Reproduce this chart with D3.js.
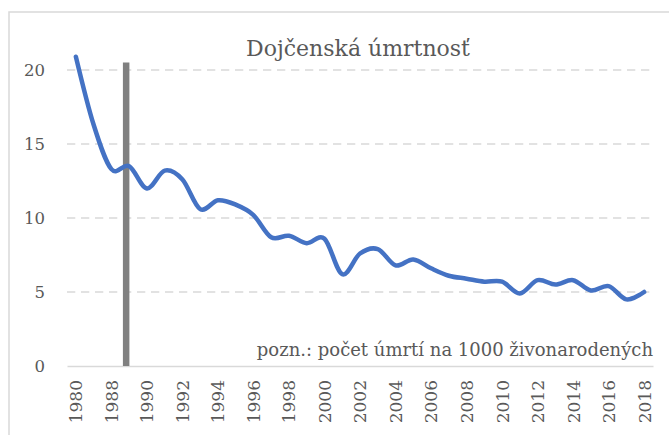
<!DOCTYPE html>
<html>
<head>
<meta charset="utf-8">
<script src="https://cdn.jsdelivr.net/npm/d3@7"></script>
<style>
  body { margin: 0; background: #fff; }
  text { font-family: "DejaVu Serif", serif; fill: #595959; }
</style>
</head>
<body>
<div class="chart"></div>
<script>
// data
const years = ["1980", "1985", "1988", "1989", "1990", "1991", "1992", "1993", "1994", "1995",
  "1996", "1997", "1998", "1999", "2000", "2001", "2002", "2003", "2004", "2005", "2006",
  "2007", "2008", "2009", "2010", "2011", "2012", "2013", "2014", "2015", "2016", "2017", "2018"];
const mortality = [20.9, 16.3, 13.3, 13.5, 12.0, 13.2, 12.6, 10.6, 11.2, 10.9,
  10.2, 8.7, 8.8, 8.3, 8.6, 6.2, 7.6, 7.9, 6.8, 7.2, 6.6,
  6.1, 5.9, 5.7, 5.7, 4.9, 5.8, 5.5, 5.8, 5.1, 5.4, 4.5, 5.0];
const yTicks = [0, 5, 10, 15, 20];
const markerYear = "1989";
const markerTop = 20.5;
const title = "Dojčenská úmrtnosť";
const note = "pozn.: počet úmrtí na 1000 živonarodených";

const W = 669, H = 435;
const plot = {left: 67, right: 653, top: 70, bottom: 366};

const svg = d3.select(".chart")
  .append("svg")
    .attr("width", W)
    .attr("height", H);

// chart frame (only top and left edges visible)
svg.append("rect")
  .attr("x", 9)
  .attr("y", 12)
  .attr("width", W + 20)
  .attr("height", H + 20)
  .attr("fill", "none")
  .attr("stroke", "#d9d9d9")
  .attr("stroke-width", 1.5);

const x = d3.scalePoint()
  .domain(years)
  .range([plot.left, plot.right])
  .padding(0.5);

const y = d3.scaleLinear()
  .domain([0, 20])
  .range([plot.bottom, plot.top]);

// gridlines
svg.append("g")
  .selectAll("line")
  .data(yTicks.filter(d => d > 0))
  .enter()
  .append("line")
    .attr("x1", plot.left)
    .attr("x2", plot.right)
    .attr("y1", d => y(d))
    .attr("y2", d => y(d))
    .attr("stroke", "#d9d9d9")
    .attr("stroke-width", 1.5)
    .attr("stroke-dasharray", "8.3,5.7");

// y axis labels
const yAxis = svg.append("g")
  .attr("transform", "translate(" + (plot.left - 22) + ",0)")
  .call(d3.axisLeft(y).tickValues(yTicks).tickSize(0).tickPadding(0));
yAxis.select(".domain").remove();
yAxis.selectAll("text")
  .style("font-size", "16.5px")
  .style("font-family", "DejaVu Serif, serif")
  .attr("fill", "#595959");

// x axis
const xAxis = svg.append("g")
  .attr("transform", "translate(0," + plot.bottom + ")")
  .call(d3.axisBottom(x)
    .tickValues(years.filter((d, i) => i % 2 === 0))
    .tickSize(0)
    .tickSizeOuter(0));
xAxis.select(".domain")
  .attr("stroke", "#d9d9d9")
  .attr("stroke-width", 1.5);
xAxis.selectAll("text")
  .attr("transform", "rotate(-90)")
  .attr("x", -14)
  .attr("y", 0)
  .attr("dy", "0.35em")
  .style("text-anchor", "end")
  .style("font-size", "17px")
  .style("font-family", "DejaVu Serif, serif")
  .attr("fill", "#595959");

// marker bar at 1989
svg.append("line")
  .attr("x1", x(markerYear) - 3)
  .attr("x2", x(markerYear) - 3)
  .attr("y1", y(markerTop))
  .attr("y2", y(0))
  .attr("stroke", "#808080")
  .attr("stroke-width", 6.5);

// series line
const line = d3.line()
  .x((d, i) => x(years[i]))
  .y(d => y(d))
  .curve(d3.curveCardinal.tension(0));

svg.append("path")
  .datum(mortality)
  .attr("d", line)
  .attr("fill", "none")
  .attr("stroke", "#4472c4")
  .attr("stroke-width", 4.5)
  .attr("stroke-linecap", "round")
  .attr("stroke-linejoin", "round");

// title
svg.append("text")
  .attr("x", 358)
  .attr("y", 56)
  .attr("text-anchor", "middle")
  .style("font-size", "22px")
  .text(title);

// note
svg.append("text")
  .attr("x", plot.right)
  .attr("y", 356)
  .attr("text-anchor", "end")
  .style("font-size", "18px")
  .text(note);
</script>
</body>
</html>
